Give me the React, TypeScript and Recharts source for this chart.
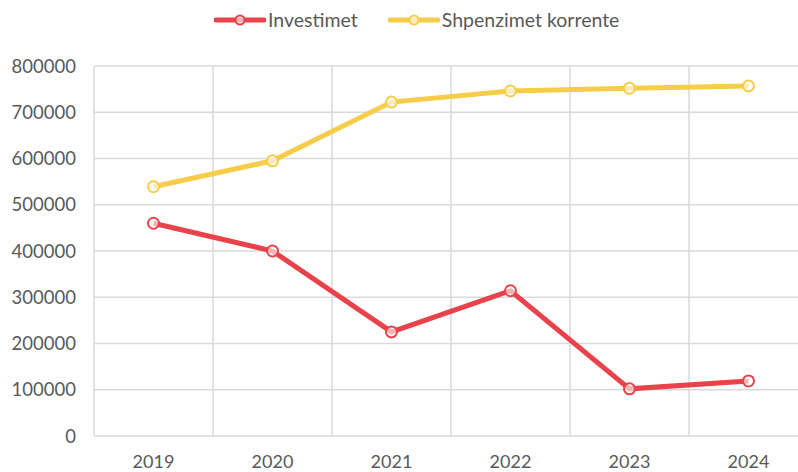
import {
  CartesianGrid,
  Line,
  LineChart,
  XAxis,
  YAxis,
} from "recharts";

const years = ["2019", "2020", "2021", "2022", "2023", "2024"];
const investimet = [460000, 400000, 225000, 314000, 102000, 119000];
const shpenzimet = [539000, 595000, 722000, 746000, 752000, 757000];
const yTicks = [0, 100000, 200000, 300000, 400000, 500000, 600000, 700000, 800000];
const gridTicks = [0, 1, 2, 3, 4, 5, 6];

const series = [
  { key: "investimet", name: "Investimet", color: "#E8424A" },
  { key: "shpenzimet", name: "Shpenzimet korrente", color: "#F5CD4B" },
];

const data = years.map((year, i) => ({
  year,
  slot: i,
  investimet: investimet[i],
  shpenzimet: shpenzimet[i],
}));

const FONT = "Lato, 'Open Sans', sans-serif";
const TEXT = "#595959";

function LegendItem({ name, color }: { name: string; color: string }) {
  return (
    <div style={{ display: "flex", alignItems: "center", marginRight: 30 }}>
      <svg width={52} height={14} style={{ marginRight: 2 }}>
        <line x1={2} y1={7} x2={50} y2={7} stroke={color} strokeWidth={5} strokeLinecap="round" />
        <circle cx={26} cy={7} r={4.5} fill="#fff" fillOpacity={0.6} stroke={color} strokeWidth={2} />
      </svg>
      <span style={{ fontSize: 19.5, color: TEXT }}>{name}</span>
    </div>
  );
}

export default function App() {
  return (
    <div
      style={{
        position: "absolute",
        left: 0,
        top: 0,
        width: 798,
        height: 472,
        overflow: "hidden",
        background: "#fff",
        fontFamily: FONT,
      }}
    >
      <div style={{ position: "absolute", left: 214, top: 8, display: "flex" }}>
        {series.map((s) => (
          <LegendItem key={s.key} name={s.name} color={s.color} />
        ))}
      </div>
      <LineChart
        width={812}
        height={472}
        data={data}
        margin={{ top: 66, right: 4, left: 0, bottom: 0 }}
      >
        <XAxis
          xAxisId="grid"
          dataKey="slot"
          type="number"
          domain={[0, 6]}
          allowDataOverflow
          ticks={gridTicks}
          hide
        />
        <CartesianGrid xAxisId="grid" stroke="#d9d9d9" strokeWidth={1.5} />
        <XAxis
          dataKey="year"
          height={36}
          padding={{ left: 59.5, right: 59.5 }}
          axisLine={false}
          tickLine={false}
          tickMargin={13}
          tick={{ fill: TEXT, fontSize: 18, fontFamily: FONT }}
        />
        <YAxis
          width={94}
          domain={[0, 800000]}
          ticks={yTicks}
          axisLine={false}
          tickLine={false}
          tickMargin={12}
          tick={{ fill: TEXT, fontSize: 18.5, fontFamily: FONT }}
        />
        {series.map((s) => (
          <Line
            key={s.key}
            dataKey={s.key}
            name={s.name}
            stroke={s.color}
            strokeWidth={5}
            dot={{ r: 5.5, fill: "#fff", fillOpacity: 0.6, stroke: s.color, strokeWidth: 2 }}
            isAnimationActive={false}
          />
        ))}
      </LineChart>
    </div>
  );
}
